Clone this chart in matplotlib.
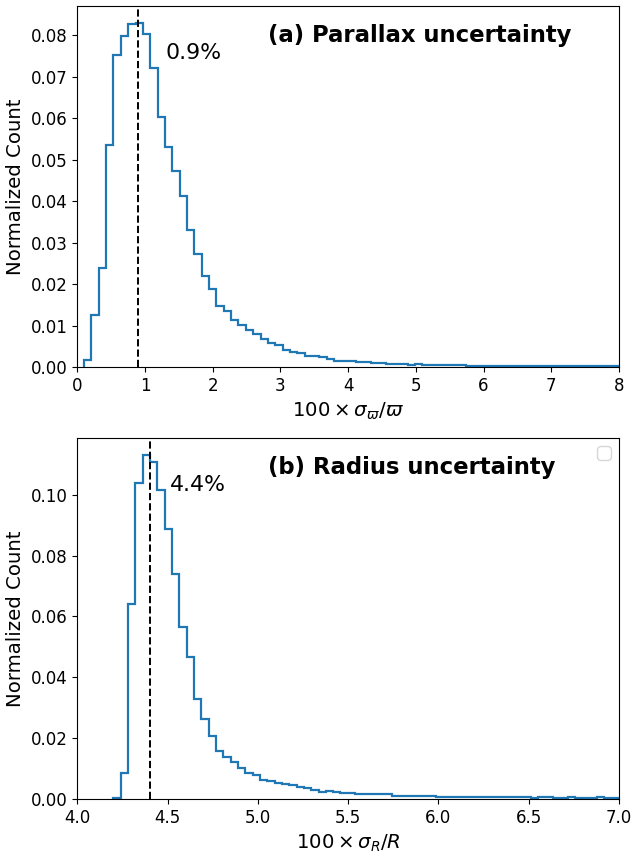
import numpy as np
import matplotlib
matplotlib.use("Agg")
import matplotlib.pyplot as plt

# ---- Panel (a): parallax uncertainty histogram ----
par_bin_start = 0.10
par_bin_width = 0.1086
par_values = [0.0016, 0.0126, 0.0238, 0.0535, 0.0753, 0.0797, 0.0826, 0.0829,
              0.0803, 0.0721, 0.0604, 0.0531, 0.0473, 0.0412, 0.0331, 0.0273,
              0.0220, 0.0188, 0.0147, 0.0135, 0.0113, 0.0101, 0.0089, 0.0079,
              0.0068, 0.0057, 0.0053, 0.0040, 0.0037, 0.0034, 0.0027, 0.0027,
              0.0023, 0.0019, 0.0014, 0.0014, 0.0014, 0.0012, 0.0012, 0.0010,
              0.0010, 0.0007, 0.0007, 0.0007, 0.0006, 0.0008, 0.0006, 0.0006,
              0.0006, 0.0006, 0.0004, 0.0006, 0.0003, 0.0003, 0.0003, 0.0003,
              0.0003, 0.0003, 0.0003, 0.0003, 0.0003, 0.0003, 0.0003, 0.0003,
              0.0002, 0.0003, 0.0003, 0.0003, 0.0002, 0.0003, 0.0003, 0.0003,
              0.0002]
par_median = 0.9
par_label = "0.9%"
par_title = "(a) Parallax uncertainty"

# ---- Panel (b): radius uncertainty histogram ----
rad_bin_start = 4.199
rad_bin_width = 0.0406
rad_values = [0.0004, 0.0087, 0.0640, 0.1037, 0.1130, 0.1109, 0.1017, 0.0886,
              0.0739, 0.0564, 0.0466, 0.0329, 0.0264, 0.0208, 0.0159, 0.0137,
              0.0120, 0.0103, 0.0087, 0.0080, 0.0064, 0.0060, 0.0054, 0.0048,
              0.0045, 0.0041, 0.0036, 0.0030, 0.0024, 0.0027, 0.0024, 0.0021,
              0.0021, 0.0018, 0.0018, 0.0018, 0.0015, 0.0015, 0.0011, 0.0011,
              0.0011, 0.0011, 0.0011, 0.0011, 0.0008, 0.0008, 0.0008, 0.0008,
              0.0008, 0.0008, 0.0008, 0.0008, 0.0008, 0.0008, 0.0008, 0.0008,
              0.0008, 0.0003, 0.0007, 0.0007, 0.0003, 0.0003, 0.0007, 0.0003,
              0.0003, 0.0003, 0.0007, 0.0003, 0.0003]
rad_median = 4.4
rad_label = "4.4%"
rad_title = "(b) Radius uncertainty"

TICK_FS = 12
LABEL_FS = 14.2
TITLE_FS = 16.4
NOTE_FS = 15.8

fig = plt.figure(figsize=(6.4, 8.56), dpi=100)
ax1 = fig.add_axes([77.3 / 640, 1 - 367 / 856, (619 - 77.3) / 640, 361 / 856])
ax2 = fig.add_axes([77.3 / 640, 1 - 799 / 856, (619 - 77.3) / 640, 361 / 856])


def draw(ax, start, width, values, median, label, label_x, title, xlabel, xlim):
    vals = np.asarray(values)
    edges = start + width * np.arange(len(vals) + 1)
    centers = 0.5 * (edges[:-1] + edges[1:])
    ax.hist(centers, bins=edges, weights=vals, histtype="step",
            color="#1f77b4", linewidth=1.6)
    ax.axvline(median, color="k", linestyle="--", linewidth=1.4)
    ax.text(label_x, 0.87, label, transform=ax.get_xaxis_transform(),
            fontsize=NOTE_FS, ha="left", va="center")
    ax.text(0.352, 0.918, title, transform=ax.transAxes, fontsize=TITLE_FS,
            fontweight="bold", ha="left", va="center")
    ax.set_xlim(*xlim)
    ax.set_xlabel(xlabel, fontsize=LABEL_FS)
    ax.set_ylabel("Normalized Count", fontsize=LABEL_FS)
    ax.tick_params(labelsize=TICK_FS)


draw(ax1, par_bin_start, par_bin_width, par_values, par_median, par_label, 1.3,
     par_title, r"$100\times\sigma_{\varpi}/\varpi$", (0, 8))
draw(ax2, rad_bin_start, rad_bin_width, rad_values, rad_median, rad_label, 4.513,
     rad_title, r"$100\times\sigma_{R}/R$", (4.0, 7.0))

import warnings
with warnings.catch_warnings():
    warnings.simplefilter("ignore")
    ax2.legend(fontsize=12)

fig.savefig("out.png", dpi=100)
